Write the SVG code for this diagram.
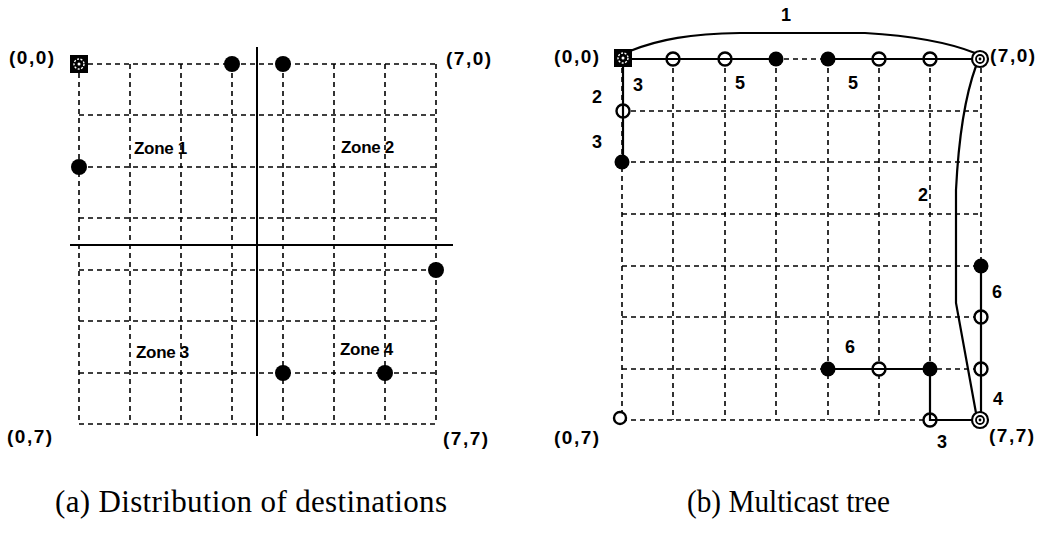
<svg xmlns="http://www.w3.org/2000/svg" width="1041" height="535" viewBox="0 0 1041 535">
  <style>
    .grid { stroke: #000; stroke-width: 1.6; stroke-dasharray: 5 4; fill: none; }
    .axis { stroke: #000; stroke-width: 2; fill: none; }
    .edge { stroke: #000; stroke-width: 2.2; fill: none; }
    .dest { fill: #000; }
    .relay { fill: #fff; stroke: #000; stroke-width: 2.4; }
    .src { fill: #000; }
    .ring { fill: none; stroke: #fff; stroke-width: 1.4; stroke-dasharray: 2 1.5; }
    .coord { font-family: "Liberation Sans", Arial, sans-serif; font-weight: bold; font-size: 19px; letter-spacing: 1.5px; fill: #000; }
    .zone { font-family: "Liberation Sans", Arial, sans-serif; font-weight: bold; font-size: 17px; letter-spacing: -0.3px; fill: #000; }
    .cost { font-family: "Liberation Sans", Arial, sans-serif; font-weight: bold; font-size: 18px; fill: #000; }
    .caption { font-family: "Liberation Serif", "Times New Roman", serif; font-size: 31px; fill: #000; }
  </style>
  <defs>
    <g id="source">
      <rect x="-9" y="-9" width="18" height="18" class="src"/>
      <circle r="5" class="ring"/>
      <circle r="1.5" fill="#fff"/>
    </g>
    <g id="sink">
      <circle r="8" fill="#fff" stroke="#000" stroke-width="2.2"/>
      <circle r="4" fill="none" stroke="#000" stroke-width="1.8"/>
      <circle r="1.4" fill="#000"/>
    </g>
  </defs>
  <rect width="1041" height="535" fill="#fff"/>

  <!-- ===== (a) 8x8 mesh split into four zones ===== -->
  <g id="mesh-a">
    <path class="grid" d="M79 64H436M79 115H436M79 167H436M79 218H436M79 270H436M79 321H436M79 373H436M79 424H436"/>
    <path class="grid" d="M79 64V424M130 64V424M181 64V424M232 64V424M283 64V424M334 64V424M385 64V424M436 64V424"/>
    <path class="axis" d="M257 47V436M70 245H453"/>
  </g>
  <g id="labels-a">
    <text class="coord" x="9" y="64">(0,0)</text>
    <text class="coord" x="446" y="65">(7,0)</text>
    <text class="coord" x="7" y="443">(0,7)</text>
    <text class="coord" x="443" y="445">(7,7)</text>
    <text class="zone" x="134" y="154">Zone 1</text>
    <text class="zone" x="341" y="153">Zone 2</text>
    <text class="zone" x="136" y="358">Zone 3</text>
    <text class="zone" x="340" y="355">Zone 4</text>
  </g>
  <g id="a-source"><use href="#source" x="79" y="64"/></g>
  <g id="a-dest-3-0"><circle class="dest" cx="232" cy="64" r="8"/></g>
  <g id="a-dest-4-0"><circle class="dest" cx="283" cy="64" r="8"/></g>
  <g id="a-dest-0-2"><circle class="dest" cx="79" cy="167" r="8"/></g>
  <g id="a-dest-7-4"><circle class="dest" cx="436" cy="270" r="8"/></g>
  <g id="a-dest-4-6"><circle class="dest" cx="283" cy="373" r="8"/></g>
  <g id="a-dest-6-6"><circle class="dest" cx="385" cy="373" r="8"/></g>

  <!-- ===== (b) multicast tree on the same mesh ===== -->
  <g id="mesh-b">
    <path class="grid" d="M622 59H981M622 111H981M622 162H981M622 214H981M622 266H981M622 317H981M622 369H981M622 420H981"/>
    <path class="grid" d="M622 59V420M673 59V420M725 59V420M776 59V420M828 59V420M879 59V420M930 59V420M981 59V420"/>
  </g>
  <g id="labels-b">
    <text class="coord" x="554" y="63">(0,0)</text>
    <text class="coord" x="990" y="62">(7,0)</text>
    <text class="coord" x="554" y="444">(0,7)</text>
    <text class="coord" x="989" y="442">(7,7)</text>
  </g>

  <!-- nodes of the tree -->
  <g id="b-source"><use href="#source" x="623" y="58"/></g>
  <g id="b-relay-1-0"><circle class="relay" cx="673" cy="59" r="6.5"/></g>
  <g id="b-relay-2-0"><circle class="relay" cx="725" cy="59" r="6.5"/></g>
  <g id="b-dest-3-0"><circle class="dest" cx="776" cy="59" r="7.5"/></g>
  <g id="b-dest-4-0"><circle class="dest" cx="828" cy="59" r="7.5"/></g>
  <g id="b-relay-5-0"><circle class="relay" cx="879" cy="59" r="6.5"/></g>
  <g id="b-relay-6-0"><circle class="relay" cx="930" cy="59" r="6.5"/></g>
  <g id="b-zone-7-0"><use href="#sink" x="980" y="59"/></g>
  <g id="b-relay-0-1"><circle class="relay" cx="623" cy="111" r="6.5"/></g>
  <g id="b-dest-0-2"><circle class="dest" cx="622" cy="162" r="7.5"/></g>
  <g id="b-dest-7-4"><circle class="dest" cx="981" cy="266" r="7.5"/></g>
  <g id="b-relay-7-5"><circle class="relay" cx="981" cy="317" r="6.5"/></g>
  <g id="b-relay-7-6"><circle class="relay" cx="981" cy="369" r="6.5"/></g>
  <g id="b-dest-4-6"><circle class="dest" cx="828" cy="369" r="7.5"/></g>
  <g id="b-relay-5-6"><circle class="relay" cx="879" cy="369" r="6.5"/></g>
  <g id="b-dest-6-6"><circle class="dest" cx="930" cy="369" r="7.5"/></g>
  <g id="b-relay-6-7"><circle class="relay" cx="930" cy="420" r="6.5"/></g>
  <g id="b-zone-7-7"><use href="#sink" x="980" y="420"/></g>
  <g id="b-corner-0-7"><circle class="relay" cx="620" cy="418" r="6" stroke-width="2.6"/></g>

  <!-- tree edges -->
  <g id="connectors">
    <path class="edge" d="M632 59H776"/>
    <path class="edge" d="M828 59H972"/>
    <path class="edge" d="M623 67V162"/>
    <path class="edge" d="M630 51C660 39 690 34 740 33H865C915 36 950 43 975 53"/>
    <path class="edge" d="M976 66Q960 110 956 190V303L976 413"/>
    <path class="edge" d="M981 266V412"/>
    <path class="edge" d="M828 369H930V420H972"/>
  </g>
  <g id="costs">
    <text class="cost" x="781" y="21">1</text>
    <text class="cost" x="633" y="91">3</text>
    <text class="cost" x="735" y="89">5</text>
    <text class="cost" x="848" y="89">5</text>
    <text class="cost" x="592" y="103">2</text>
    <text class="cost" x="592" y="148">3</text>
    <text class="cost" x="918" y="201">2</text>
    <text class="cost" x="992" y="298">6</text>
    <text class="cost" x="845" y="353">6</text>
    <text class="cost" x="993" y="405">4</text>
    <text class="cost" x="937" y="448">3</text>
  </g>

  <!-- captions -->
  <text class="caption" x="55" y="512" textLength="392">(a) Distribution of destinations</text>
  <text class="caption" x="687" y="512" textLength="203" lengthAdjust="spacingAndGlyphs">(b) Multicast tree</text>
</svg>
